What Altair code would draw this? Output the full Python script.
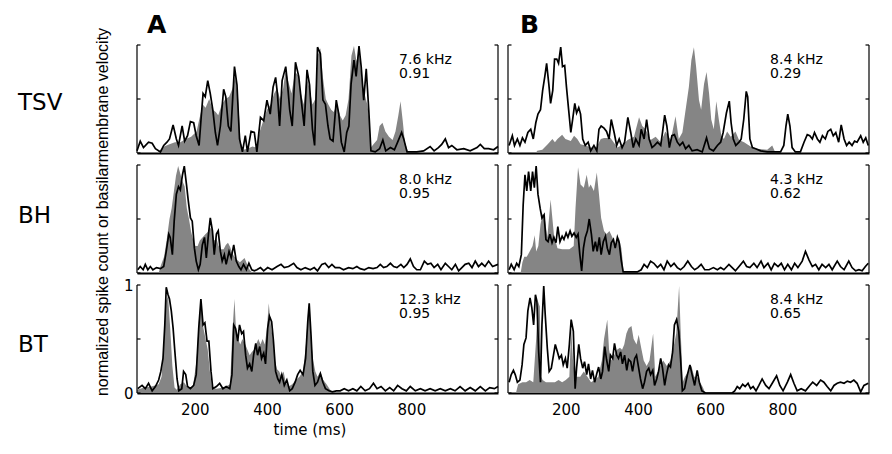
import altair as alt
import pandas as pd

# ---------------- data ----------------
X_DOMAIN = [40, 1040]
Y_DOMAIN = [0, 1]
X_TICKS = [200, 400, 600, 800]
Y_TICKS = [0, 0.5, 1]
Y_LABELS = [0, 1]
ROWS = ["TSV", "BH", "BT"]
COLS = ["A", "B"]

FREQ = {("TSV", "A"): "7.6 kHz", ("TSV", "B"): "8.4 kHz",
        ("BH", "A"): "8.0 kHz", ("BH", "B"): "4.3 kHz",
        ("BT", "A"): "12.3 kHz", ("BT", "B"): "8.4 kHz"}
CORR = {("TSV", "A"): "0.91", ("TSV", "B"): "0.29",
        ("BH", "A"): "0.95", ("BH", "B"): "0.62",
        ("BT", "A"): "0.95", ("BT", "B"): "0.65"}

# black line: basilar membrane velocity (time ms, normalized value)
A_TSV_LINE = [(40,0.02),(49,0.11),(58,0.05),(72,0.10),(82,0.09),(91,0.04),(105,0.01),(114,0.07),(123,0.10),(130,0.13),(140,0.26),(149,0.13),(155,0.07),(165,0.25),(172,0.11),(180,0.16),(188,0.29),(197,0.28),(204,0.16),(212,0.07),(218,0.34),(223,0.55),(229,0.52),(236,0.67),(243,0.55),(250,0.40),(257,0.19),(263,0.07),(271,0.25),(280,0.59),(286,0.52),(293,0.25),(300,0.20),(310,0.80),(317,0.63),(324,0.13),(332,0.01),(340,0.16),(346,0.01),(356,0.20),(365,0.19),(372,0.01),(382,0.33),(391,0.30),(400,0.49),(409,0.36),(417,0.61),(424,0.70),(429,0.55),(435,0.25),(442,0.67),(452,0.80),(457,0.64),(463,0.40),(470,0.25),(479,0.84),(488,0.71),(496,0.46),(503,0.25),(511,0.77),(518,0.63),(526,0.22),(532,0.07),(540,0.98),(548,0.92),(555,0.49),(562,0.45),(569,0.25),(575,0.13),(583,0.11),(592,0.49),(599,0.36),(606,0.10),(614,0.01),(621,0.19),(627,0.25),(633,0.64),(641,0.86),(647,0.71),(655,0.99),(661,0.80),(668,0.49),(675,0.78),(682,0.40),(688,0.02),(700,0.01),(712,0.04),(721,0.12),(729,0.02),(742,0.05),(753,0.03),(762,0.10),(773,0.19),(779,0.13),(788,0.01),(815,0.01),(834,0.02),(852,0.06),(863,0.02),(875,0.05),(884,0.08),(894,0.13),(903,0.05),(912,0.07),(926,0.03),(945,0.04),(963,0.02),(982,0.05),(991,0.08),(1002,0.04),(1014,0.04),(1028,0.03),(1040,0.06)]
B_TSV_LINE = [(43,0.07),(52,0.16),(58,0.07),(66,0.13),(73,0.07),(80,0.14),(87,0.10),(95,0.19),(103,0.22),(110,0.13),(117,0.28),(123,0.36),(130,0.40),(136,0.58),(142,0.71),(147,0.83),(153,0.64),(158,0.46),(164,0.58),(169,0.87),(175,0.87),(180,0.83),(186,0.98),(191,0.80),(197,0.81),(202,0.61),(208,0.40),(214,0.19),(219,0.31),(225,0.46),(230,0.37),(236,0.42),(241,0.36),(247,0.13),(254,0.07),(262,0.10),(269,0.02),(278,0.07),(286,0.02),(292,0.22),(298,0.25),(306,0.23),(313,0.20),(320,0.13),(326,0.31),(334,0.19),(341,0.07),(348,0.13),(356,0.05),(363,0.10),(372,0.33),(380,0.19),(387,0.05),(394,0.13),(403,0.07),(409,0.22),(417,0.13),(424,0.31),(431,0.13),(439,0.05),(446,0.07),(454,0.10),(463,0.07),(468,0.19),(474,0.35),(480,0.25),(487,0.05),(494,0.16),(501,0.17),(509,0.10),(516,0.07),(524,0.10),(532,0.04),(541,0.07),(550,0.02),(564,0.03),(578,0.01),(590,0.14),(598,0.04),(609,0.02),(620,0.07),(629,0.10),(636,0.19),(645,0.37),(653,0.48),(658,0.28),(664,0.13),(671,0.07),(680,0.10),(686,0.13),(693,0.31),(700,0.57),(704,0.52),(710,0.13),(717,0.05),(726,0.04),(740,0.02),(758,0.01),(777,0.01),(795,0.01),(804,0.07),(810,0.25),(815,0.36),(821,0.25),(827,0.05),(836,0.01),(850,0.01),(860,0.10),(869,0.17),(876,0.16),(883,0.13),(889,0.19),(897,0.13),(904,0.10),(911,0.16),(919,0.13),(926,0.20),(934,0.22),(941,0.16),(948,0.19),(956,0.10),(963,0.26),(971,0.13),(978,0.07),(985,0.10),(993,0.07),(1000,0.11),(1007,0.10),(1017,0.16),(1024,0.10),(1031,0.14),(1038,0.07)]
A_BH_LINE = [(42,0.03),(49,0.06),(57,0.03),(63,0.08),(70,0.03),(77,0.06),(84,0.03),(94,0.05),(105,0.04),(114,0.06),(121,0.20),(128,0.36),(132,0.33),(138,0.17),(143,0.48),(149,0.73),(155,0.80),(160,0.77),(166,0.91),(171,0.99),(177,0.82),(182,0.67),(188,0.51),(193,0.48),(199,0.23),(204,0.11),(210,0.03),(215,0.08),(221,0.26),(227,0.33),(232,0.14),(238,0.36),(243,0.51),(249,0.39),(254,0.17),(260,0.36),(265,0.39),(271,0.20),(276,0.11),(282,0.17),(287,0.08),(295,0.20),(301,0.14),(308,0.26),(315,0.11),(322,0.06),(328,0.03),(335,0.08),(343,0.03),(350,0.09),(358,0.03),(365,0.02),(372,0.03),(382,0.05),(391,0.02),(402,0.05),(414,0.03),(428,0.06),(439,0.08),(448,0.05),(460,0.06),(474,0.09),(483,0.05),(494,0.03),(506,0.05),(520,0.03),(531,0.05),(540,0.02),(552,0.08),(561,0.09),(571,0.05),(580,0.08),(589,0.05),(601,0.05),(612,0.03),(626,0.05),(638,0.04),(649,0.06),(658,0.04),(670,0.03),(682,0.05),(694,0.04),(705,0.05),(714,0.08),(723,0.05),(732,0.06),(742,0.09),(751,0.06),(760,0.05),(771,0.08),(779,0.05),(788,0.08),(797,0.13),(806,0.06),(815,0.03),(825,0.03),(836,0.11),(845,0.08),(854,0.09),(863,0.05),(873,0.08),(882,0.03),(894,0.09),(903,0.06),(912,0.03),(922,0.08),(931,0.02),(940,0.05),(949,0.08),(959,0.09),(968,0.05),(977,0.11),(986,0.06),(995,0.09),(1004,0.06),(1014,0.11),(1025,0.06),(1040,0.08)]
B_BH_LINE = [(43,0.03),(49,0.08),(57,0.03),(64,0.09),(70,0.06),(77,0.17),(82,0.63),(87,0.91),(92,0.76),(97,0.94),(103,0.76),(108,0.94),(113,0.79),(118,0.99),(123,0.73),(129,0.60),(134,0.51),(140,0.54),(145,0.31),(151,0.29),(156,0.36),(162,0.28),(167,0.33),(173,0.28),(178,0.43),(184,0.29),(190,0.34),(195,0.31),(201,0.37),(206,0.33),(212,0.39),(217,0.34),(223,0.37),(229,0.33),(234,0.36),(239,0.17),(244,0.02),(249,0.23),(254,0.33),(260,0.39),(265,0.50),(271,0.36),(276,0.20),(282,0.29),(287,0.20),(293,0.33),(298,0.17),(304,0.29),(310,0.34),(315,0.23),(321,0.17),(326,0.28),(332,0.31),(337,0.23),(343,0.33),(348,0.28),(354,0.11),(359,0.01),(380,0.01),(398,0.01),(409,0.03),(417,0.08),(426,0.05),(435,0.11),(444,0.09),(454,0.05),(463,0.08),(472,0.03),(481,0.11),(491,0.06),(500,0.09),(509,0.05),(518,0.03),(528,0.06),(538,0.11),(548,0.06),(557,0.03),(566,0.05),(575,0.08),(585,0.03),(597,0.03),(609,0.05),(620,0.03),(629,0.05),(638,0.03),(652,0.08),(661,0.05),(670,0.02),(680,0.06),(692,0.11),(701,0.06),(710,0.05),(721,0.09),(730,0.05),(741,0.11),(749,0.05),(760,0.09),(769,0.03),(778,0.09),(788,0.06),(797,0.09),(806,0.03),(815,0.08),(825,0.03),(834,0.09),(843,0.05),(855,0.11),(864,0.20),(874,0.12),(883,0.06),(892,0.08),(901,0.03),(910,0.08),(920,0.05),(929,0.08),(938,0.03),(952,0.11),(961,0.06),(971,0.03),(984,0.11),(993,0.05),(1003,0.02),(1012,0.03),(1021,0.02),(1030,0.06),(1038,0.09)]
A_BT_LINE = [(42,0.04),(54,0.07),(63,0.04),(72,0.09),(82,0.02),(91,0.06),(100,0.12),(106,0.20),(112,0.32),(117,0.63),(121,0.98),(126,0.91),(130,0.87),(135,0.76),(140,0.60),(145,0.38),(151,0.13),(156,0.02),(164,0.04),(169,0.20),(175,0.17),(180,0.06),(188,0.04),(197,0.07),(204,0.17),(211,0.60),(217,0.87),(223,0.63),(228,0.65),(234,0.48),(239,0.48),(245,0.20),(250,0.04),(260,0.06),(269,0.09),(278,0.04),(287,0.06),(297,0.04),(303,0.17),(308,0.63),(313,0.60),(319,0.48),(324,0.63),(330,0.55),(335,0.57),(341,0.35),(346,0.23),(352,0.27),(358,0.20),(363,0.35),(369,0.46),(374,0.35),(380,0.43),(385,0.32),(391,0.37),(396,0.27),(402,0.60),(407,0.71),(413,0.66),(418,0.48),(424,0.20),(430,0.13),(435,0.10),(441,0.17),(448,0.07),(455,0.12),(463,0.02),(470,0.04),(478,0.10),(485,0.17),(492,0.21),(500,0.17),(507,0.32),(513,0.66),(517,0.83),(522,0.54),(527,0.20),(533,0.07),(540,0.10),(548,0.18),(555,0.10),(562,0.04),(572,0.02),(581,0.01),(592,0.02),(603,0.02),(614,0.04),(626,0.02),(638,0.04),(649,0.02),(660,0.06),(672,0.02),(684,0.04),(695,0.09),(705,0.04),(716,0.06),(728,0.02),(740,0.05),(751,0.02),(762,0.07),(774,0.04),(786,0.02),(797,0.06),(811,0.02),(825,0.04),(838,0.02),(852,0.04),(866,0.02),(880,0.04),(894,0.02),(908,0.04),(921,0.02),(935,0.06),(949,0.02),(963,0.05),(977,0.02),(991,0.06),(1005,0.02),(1017,0.05),(1030,0.04),(1040,0.06)]
B_BT_LINE = [(43,0.10),(49,0.17),(55,0.21),(60,0.17),(66,0.10),(73,0.12),(79,0.26),(84,0.45),(90,0.51),(95,0.76),(101,0.88),(106,0.79),(111,0.63),(116,0.91),(120,0.85),(125,0.38),(130,0.10),(134,0.63),(139,0.99),(143,0.73),(149,0.41),(154,0.20),(160,0.23),(166,0.35),(171,0.45),(177,0.38),(182,0.32),(188,0.35),(193,0.26),(199,0.32),(204,0.23),(210,0.45),(215,0.68),(221,0.57),(226,0.04),(230,0.23),(236,0.45),(241,0.32),(247,0.23),(252,0.29),(258,0.17),(263,0.27),(269,0.13),(274,0.21),(280,0.10),(286,0.18),(291,0.24),(297,0.13),(302,0.20),(308,0.43),(313,0.31),(319,0.20),(324,0.35),(330,0.32),(335,0.46),(341,0.35),(346,0.32),(352,0.38),(357,0.27),(363,0.35),(369,0.21),(374,0.31),(380,0.29),(385,0.20),(391,0.32),(396,0.35),(402,0.23),(407,0.13),(413,0.04),(418,0.10),(424,0.20),(430,0.23),(435,0.17),(441,0.21),(446,0.07),(452,0.13),(457,0.20),(463,0.32),(468,0.23),(474,0.07),(479,0.17),(485,0.26),(490,0.24),(496,0.38),(501,0.63),(507,0.68),(513,0.57),(518,0.32),(523,0.02),(529,0.04),(537,0.17),(544,0.26),(550,0.17),(557,0.07),(564,0.21),(570,0.10),(577,0.02),(587,0.0),(661,0.0),(668,0.02),(675,0.06),(682,0.04),(690,0.08),(697,0.06),(705,0.09),(712,0.04),(719,0.06),(727,0.02),(735,0.07),(744,0.13),(754,0.07),(763,0.04),(772,0.09),(784,0.16),(793,0.07),(802,0.02),(814,0.10),(823,0.17),(832,0.09),(841,0.02),(852,0.04),(864,0.02),(876,0.07),(884,0.10),(895,0.07),(906,0.12),(915,0.10),(924,0.06),(934,0.02),(943,0.07),(952,0.09),(961,0.10),(971,0.09),(980,0.11),(989,0.10),(998,0.12),(1007,0.09),(1017,0.01),(1026,0.07),(1038,0.09)]

# grey area: normalized spike count (time ms, normalized value)
A_TSV_FILL = [(40,0),(95,0),(105,0.03),(115,0.06),(130,0.08),(145,0.1),(160,0.1),(175,0.13),(190,0.15),(205,0.2),(215,0.35),(222,0.45),(230,0.42),(240,0.5),(250,0.4),(258,0.38),(265,0.35),(275,0.45),(285,0.5),(295,0.52),(305,0.6),(312,0.72),(320,0.5),(327,0.1),(335,0.03),(345,0.04),(360,0.06),(372,0.05),(380,0.2),(390,0.3),(400,0.4),(410,0.45),(420,0.55),(428,0.6),(436,0.5),(445,0.6),(452,0.78),(460,0.65),(468,0.55),(478,0.75),(486,0.72),(494,0.55),(502,0.45),(510,0.7),(518,0.6),(526,0.45),(534,0.5),(540,0.9),(548,0.97),(555,0.7),(563,0.5),(570,0.45),(578,0.4),(585,0.38),(594,0.45),(602,0.35),(610,0.3),(618,0.35),(626,0.5),(634,0.9),(641,0.99),(648,0.85),(655,0.95),(662,0.7),(670,0.55),(678,0.45),(684,0.3),(688,0.05),(695,0.08),(705,0.12),(712,0.25),(720,0.28),(728,0.2),(738,0.15),(748,0.12),(756,0.2),(764,0.35),(770,0.48),(776,0.3),(782,0.1),(790,0.02),(800,0),(1040,0)]
B_TSV_FILL = [(40,0),(117,0),(121,0.02),(135,0.03),(150,0.08),(163,0.13),(170,0.1),(177,0.13),(190,0.17),(199,0.13),(214,0.11),(223,0.16),(232,0.13),(241,0.08),(255,0.07),(269,0.05),(285,0.05),(297,0.13),(306,0.14),(324,0.14),(343,0.05),(360,0.08),(371,0.12),(389,0.15),(403,0.33),(412,0.25),(421,0.22),(435,0.12),(449,0.15),(463,0.1),(476,0.2),(491,0.12),(504,0.34),(513,0.13),(523,0.19),(532,0.40),(541,0.61),(548,0.86),(555,0.98),(561,0.80),(569,0.49),(575,0.40),(583,0.64),(590,0.75),(597,0.55),(603,0.31),(610,0.22),(617,0.48),(624,0.31),(631,0.16),(638,0.13),(647,0.2),(657,0.15),(670,0.2),(680,0.12),(694,0.1),(712,0.06),(730,0.04),(758,0.03),(772,0.07),(781,0),(1040,0)]
A_BH_FILL = [(40,0),(100,0),(105,0.06),(115,0.15),(122,0.3),(130,0.5),(136,0.6),(142,0.75),(148,0.9),(154,0.99),(160,0.92),(166,0.85),(172,0.8),(178,0.6),(184,0.5),(190,0.38),(196,0.3),(202,0.25),(208,0.25),(214,0.3),(222,0.33),(230,0.36),(236,0.38),(242,0.42),(248,0.4),(254,0.3),(260,0.32),(266,0.25),(272,0.22),(280,0.22),(286,0.26),(292,0.28),(298,0.24),(304,0.18),(310,0.15),(318,0.12),(325,0.1),(332,0.12),(338,0.14),(345,0.08),(352,0.03),(360,0),(1040,0)]
B_BH_FILL = [(40,0),(75,0),(80,0.1),(85,0.15),(92,0.15),(100,0.2),(108,0.25),(114,0.35),(118,0.2),(124,0.25),(130,0.45),(136,0.55),(142,0.5),(149,0.33),(158,0.68),(167,0.36),(177,0.23),(190,0.22),(210,0.22),(222,0.25),(227,0.6),(234,0.98),(241,0.82),(250,0.79),(258,0.91),(264,0.79),(269,0.82),(278,0.76),(286,0.93),(292,0.73),(298,0.51),(306,0.39),(313,0.36),(321,0.39),(329,0.33),(338,0.26),(347,0.33),(354,0.23),(358,0.1),(360,0),(1040,0)]
A_BT_FILL = [(40,0.03),(60,0.05),(80,0.06),(100,0.08),(108,0.15),(114,0.45),(120,0.85),(126,0.9),(132,0.6),(138,0.25),(144,0.05),(150,0.03),(160,0.08),(170,0.1),(180,0.05),(195,0.06),(205,0.3),(212,0.7),(218,0.85),(224,0.6),(230,0.5),(236,0.4),(242,0.2),(248,0.05),(260,0.04),(280,0.05),(298,0.08),(304,0.55),(310,0.87),(314,0.6),(320,0.5),(326,0.45),(332,0.5),(340,0.45),(346,0.4),(352,0.35),(358,0.38),(364,0.4),(370,0.45),(376,0.5),(382,0.45),(388,0.5),(394,0.45),(400,0.6),(405,0.83),(410,0.65),(416,0.5),(422,0.3),(428,0.22),(434,0.2),(440,0.15),(446,0.2),(452,0.1),(460,0.06),(470,0.08),(480,0.12),(490,0.15),(500,0.2),(508,0.45),(514,0.75),(518,0.8),(522,0.5),(528,0.3),(534,0.2),(540,0.15),(548,0.2),(556,0.12),(565,0.08),(575,0.03),(585,0),(1040,0)]
B_BT_FILL = [(40,0),(62,0),(68,0.08),(80,0.1),(90,0.1),(100,0.12),(110,0.1),(118,0.5),(123,0.85),(128,0.8),(132,0.15),(136,0.12),(145,0.1),(160,0.1),(170,0.1),(180,0.12),(190,0.1),(200,0.12),(210,0.15),(215,0.6),(220,0.3),(226,0.15),(240,0.15),(250,0.2),(260,0.15),(270,0.1),(280,0.12),(290,0.15),(300,0.3),(306,0.5),(315,0.68),(320,0.4),(326,0.3),(334,0.35),(342,0.4),(350,0.42),(356,0.4),(362,0.45),(368,0.55),(374,0.6),(382,0.62),(388,0.5),(396,0.45),(402,0.54),(410,0.4),(416,0.3),(424,0.25),(432,0.3),(442,0.55),(448,0.15),(455,0.2),(462,0.25),(470,0.3),(480,0.25),(490,0.3),(500,0.45),(506,0.55),(514,0.99),(518,0.6),(524,0.1),(530,0.15),(540,0.2),(548,0.25),(556,0.15),(564,0.15),(572,0.1),(580,0.05),(586,0),(1040,0)]

LINE = {("TSV", "A"): A_TSV_LINE, ("TSV", "B"): B_TSV_LINE,
        ("BH", "A"): A_BH_LINE, ("BH", "B"): B_BH_LINE,
        ("BT", "A"): A_BT_LINE, ("BT", "B"): B_BT_LINE}
FILL = {("TSV", "A"): A_TSV_FILL, ("TSV", "B"): B_TSV_FILL,
        ("BH", "A"): A_BH_FILL, ("BH", "B"): B_BH_FILL,
        ("BT", "A"): A_BT_FILL, ("BT", "B"): B_BT_FILL}

# ---------------- style / layout ----------------
W, H = 361, 108
GREY = "#858585"
FONT = "DejaVu Sans"
LABEL_T = 766            # time where the kHz / correlation notes start
TICK_PX = 3.5
TICK_MS = TICK_PX * (X_DOMAIN[1] - X_DOMAIN[0]) / W
ROW_LABEL_Y = {"TSV": 58, "BH": 51, "BT": 60}
COL_LABEL_DX = {"A": 10, "B": 12}


def panel(r, c):
    bottom = r == ROWS[-1]
    left = c == COLS[0]
    xs = alt.Scale(domain=X_DOMAIN, nice=False, zero=False)
    ys = alt.Scale(domain=Y_DOMAIN, nice=False)
    xaxis = alt.Axis(values=X_TICKS, ticks=False, labels=bottom, domain=True,
                     domainColor="black", domainWidth=2, grid=False, title=None,
                     format="d", labelFont=FONT, labelFontSize=15,
                     labelColor="black", labelPadding=9)
    if bottom and left:
        yaxis = alt.Axis(values=Y_LABELS, ticks=False, domain=False, grid=False,
                         title=None, format="d", labelFont=FONT, labelFontSize=15,
                         labelColor="black", labelPadding=4)
    else:
        yaxis = None

    def X(f):
        return alt.X(f, type="quantitative", scale=xs, axis=xaxis)

    def Y(f):
        return alt.Y(f, type="quantitative", scale=ys, axis=yaxis)

    fill_df = pd.DataFrame(FILL[(r, c)], columns=["t", "v"])
    line_df = pd.DataFrame(LINE[(r, c)], columns=["t", "v"])

    area = alt.Chart(fill_df).mark_area(color=GREY, interpolate="linear").encode(
        x=X("t"), y=Y("v"))
    line = alt.Chart(line_df).mark_line(color="black", strokeWidth=1.7,
                                        interpolate="linear").encode(
        x=X("t"), y=Y("v"))

    side_df = pd.DataFrame({"t": X_DOMAIN, "lo": [Y_DOMAIN[0]] * 2,
                            "hi": [Y_DOMAIN[1]] * 2})
    sides = alt.Chart(side_df).mark_rule(color="black", strokeWidth=1.2).encode(
        x=X("t"), y=Y("lo"), y2="hi:Q")

    tick_rows = []
    for v in Y_TICKS:
        tick_rows.append({"t0": X_DOMAIN[0], "t1": X_DOMAIN[0] + TICK_MS, "v": v})
        tick_rows.append({"t0": X_DOMAIN[1], "t1": X_DOMAIN[1] - TICK_MS, "v": v})
    ticks = alt.Chart(pd.DataFrame(tick_rows)).mark_rule(
        color="black", strokeWidth=1.2).encode(x=X("t0"), x2="t1:Q", y=Y("v"))

    note_df = pd.DataFrame({"t": [LABEL_T], "f": [FREQ[(r, c)]], "k": [CORR[(r, c)]]})
    note1 = alt.Chart(note_df).mark_text(align="left", baseline="middle", font=FONT,
                                         fontSize=14, color="black").encode(
        x=X("t"), y=alt.value(14.5), text="f:N")
    note2 = alt.Chart(note_df).mark_text(align="left", baseline="middle", font=FONT,
                                         fontSize=14, color="black").encode(
        x=X("t"), y=alt.value(29), text="k:N")

    layers = [area, line, sides, ticks, note1, note2]

    if left:
        lab = alt.Chart(pd.DataFrame({"s": [r]})).mark_text(
            align="left", baseline="middle", font=FONT, fontSize=23,
            color="black").encode(x=alt.value(-119), y=alt.value(ROW_LABEL_Y[r]),
                                  text="s:N")
        layers.append(lab)
    if r == ROWS[0]:
        cl = alt.Chart(pd.DataFrame({"s": [c]})).mark_text(
            align="left", baseline="middle", font=FONT, fontSize=25,
            fontWeight="bold", color="black").encode(
            x=alt.value(COL_LABEL_DX[c]), y=alt.value(-20), text="s:N")
        layers.append(cl)
    if r == ROWS[1] and left:
        yt = alt.Chart(pd.DataFrame({"s": ["normalized spike count or basilarmembrane velocity"]})).mark_text(
            align="center", baseline="middle", angle=270, font="Liberation Sans",
            fontSize=16, color="black").encode(
            x=alt.value(-34), y=alt.value(47), text="s:N")
        layers.append(yt)
    if bottom and left:
        xt = alt.Chart(pd.DataFrame({"s": ["time (ms)"]})).mark_text(
            align="center", baseline="middle", font=FONT, fontSize=15,
            color="black").encode(x=alt.value(173), y=alt.value(145), text="s:N")
        layers.append(xt)

    return alt.layer(*layers).properties(width=W, height=H)


panels = [panel(r, c) for r in ROWS for c in COLS]
chart = alt.concat(*panels, columns=2, spacing={"row": 12, "column": 10},
                   bounds="flush").properties(
    padding={"left": 10, "top": 5, "right": 5, "bottom": 5},
    background="white",
).configure_view(stroke=None)

chart.save("out.html", embed_options={"renderer": "svg", "actions": False})
